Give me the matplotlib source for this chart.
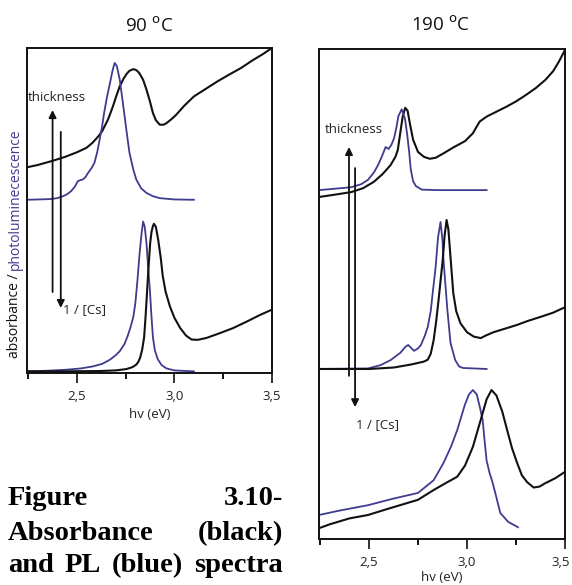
import matplotlib
matplotlib.use("Agg")
import matplotlib.pyplot as plt
import matplotlib.transforms as mtransforms
from matplotlib.ticker import FixedLocator

plt.rcParams["font.family"] = ["Open Sans", "DejaVu Sans"]

BLACK = "#111111"
BLUE = "#3f3b8f"

# ---------------- 90 °C : absorbance (black) and PL (blue) -----------------
l90_abs_thick_x = [2.245, 2.30, 2.377, 2.44, 2.50, 2.55, 2.58, 2.61, 2.63, 2.66, 2.685, 2.70, 2.72,
                   2.74, 2.755, 2.77, 2.79, 2.805, 2.82, 2.84, 2.857, 2.875, 2.89, 2.905, 2.925,
                   2.945, 2.96, 2.985, 3.01, 3.05, 3.10, 3.16, 3.22, 3.28, 3.34, 3.40, 3.45, 3.50]
l90_abs_thick_y = [0.633, 0.640, 0.653, 0.665, 0.679, 0.693, 0.708, 0.728, 0.744, 0.780, 0.820, 0.848,
                   0.882, 0.906, 0.920, 0.930, 0.935, 0.932, 0.923, 0.902, 0.872, 0.835, 0.800, 0.778,
                   0.764, 0.764, 0.769, 0.781, 0.795, 0.822, 0.851, 0.874, 0.897, 0.918, 0.938, 0.962,
                   0.980, 1.0]

l90_pl_thick_x = [2.245, 2.36, 2.40, 2.43, 2.45, 2.47, 2.49, 2.505, 2.52, 2.53, 2.545, 2.557, 2.575,
                  2.59, 2.605, 2.617, 2.63, 2.64, 2.655, 2.67, 2.683, 2.694, 2.705, 2.72, 2.732, 2.745,
                  2.758, 2.77, 2.79, 2.805, 2.83, 2.857, 2.89, 2.925, 3.00, 3.10]
l90_pl_thick_y = [0.533, 0.535, 0.538, 0.544, 0.550, 0.559, 0.573, 0.590, 0.594, 0.595, 0.603, 0.615,
                  0.630, 0.646, 0.680, 0.718, 0.760, 0.800, 0.850, 0.892, 0.930, 0.954, 0.945, 0.903,
                  0.850, 0.790, 0.730, 0.677, 0.625, 0.595, 0.568, 0.554, 0.544, 0.538, 0.534, 0.533]

l90_abs_thin_x = [2.245, 2.40, 2.617, 2.70, 2.754, 2.785, 2.805, 2.815, 2.825, 2.835, 2.845, 2.852,
                  2.86, 2.868, 2.876, 2.883, 2.89, 2.895, 2.905, 2.917, 2.93, 2.94, 2.955, 2.977,
                  3.00, 3.03, 3.06, 3.088, 3.12, 3.165, 3.23, 3.30, 3.37, 3.44, 3.50]
l90_abs_thin_y = [0.005, 0.005, 0.006, 0.008, 0.012, 0.018, 0.026, 0.034, 0.048, 0.072, 0.110, 0.170,
                  0.250, 0.330, 0.400, 0.435, 0.452, 0.459, 0.450, 0.410, 0.355, 0.300, 0.250, 0.205,
                  0.170, 0.138, 0.115, 0.103, 0.102, 0.108, 0.122, 0.138, 0.158, 0.179, 0.195]

l90_pl_thin_x = [2.245, 2.35, 2.445, 2.52, 2.58, 2.63, 2.67, 2.70, 2.72, 2.745, 2.76, 2.775, 2.79,
                 2.80, 2.81, 2.822, 2.832, 2.84, 2.848, 2.857, 2.866, 2.874, 2.882, 2.89, 2.90,
                 2.915, 2.935, 2.96, 3.00, 3.10]
l90_pl_thin_y = [0.005, 0.007, 0.010, 0.014, 0.020, 0.028, 0.041, 0.055, 0.067, 0.090, 0.113, 0.140,
                 0.174, 0.215, 0.280, 0.369, 0.430, 0.466, 0.450, 0.400, 0.320, 0.260, 0.180, 0.110,
                 0.070, 0.042, 0.024, 0.014, 0.008, 0.005]

# ---------------- 190 °C : three sample sizes -----------------
r190_abs_1_x = [2.245, 2.33, 2.41, 2.47, 2.525, 2.57, 2.61, 2.635, 2.647, 2.66, 2.672, 2.685, 2.697,
                2.71, 2.725, 2.75, 2.78, 2.81, 2.84, 2.88, 2.93, 2.99, 3.03, 3.05, 3.065, 3.10, 3.15,
                3.20, 3.25, 3.30, 3.35, 3.40, 3.44, 3.47, 3.50]
r190_abs_1_y = [0.698, 0.703, 0.708, 0.716, 0.729, 0.745, 0.763, 0.780, 0.794, 0.830, 0.862, 0.880,
                0.874, 0.845, 0.815, 0.790, 0.780, 0.776, 0.778, 0.787, 0.799, 0.812, 0.828, 0.842,
                0.852, 0.862, 0.872, 0.882, 0.893, 0.906, 0.920, 0.937, 0.955, 0.975, 0.998]

r190_pl_1_x = [2.245, 2.33, 2.41, 2.46, 2.495, 2.525, 2.546, 2.565, 2.585, 2.60, 2.615, 2.628, 2.64,
               2.65, 2.667, 2.684, 2.695, 2.705, 2.713, 2.725, 2.74, 2.77, 2.85, 3.10]
r190_pl_1_y = [0.712, 0.715, 0.718, 0.724, 0.733, 0.748, 0.763, 0.780, 0.800, 0.796, 0.805, 0.818,
               0.840, 0.863, 0.877, 0.857, 0.825, 0.790, 0.755, 0.730, 0.720, 0.713, 0.712, 0.712]

r190_abs_2_x = [2.245, 2.50, 2.627, 2.713, 2.78, 2.80, 2.815, 2.83, 2.843, 2.855, 2.866, 2.876,
                2.886, 2.896, 2.905, 2.915, 2.93, 2.945, 2.967, 3.00, 3.035, 3.07, 3.10, 3.135, 3.20,
                3.256, 3.31, 3.373, 3.44, 3.50]
r190_abs_2_y = [0.347, 0.347, 0.350, 0.356, 0.362, 0.366, 0.378, 0.406, 0.445, 0.488, 0.530, 0.569,
                0.620, 0.651, 0.632, 0.580, 0.502, 0.465, 0.440, 0.422, 0.413, 0.410, 0.416, 0.422,
                0.430, 0.437, 0.445, 0.453, 0.462, 0.473]

r190_pl_2_x = [2.245, 2.495, 2.56, 2.61, 2.66, 2.685, 2.70, 2.715, 2.73, 2.75, 2.765, 2.785, 2.80,
               2.815, 2.825, 2.84, 2.852, 2.865, 2.875, 2.88, 2.90, 2.916, 2.94, 2.96, 2.98, 3.10]
r190_pl_2_y = [0.347, 0.348, 0.355, 0.365, 0.380, 0.392, 0.396, 0.390, 0.384, 0.389, 0.396, 0.415,
               0.433, 0.465, 0.502, 0.555, 0.615, 0.647, 0.610, 0.570, 0.467, 0.400, 0.365, 0.352,
               0.349, 0.347]

r190_abs_3_x = [2.245, 2.30, 2.40, 2.495, 2.60, 2.75, 2.83, 2.90, 2.95, 2.99, 3.03, 3.07, 3.10,
                3.125, 3.15, 3.18, 3.205, 3.23, 3.256, 3.28, 3.307, 3.34, 3.37, 3.40, 3.45, 3.50]
r190_abs_3_y = [0.022, 0.030, 0.042, 0.049, 0.062, 0.080, 0.100, 0.116, 0.127, 0.150, 0.188, 0.243,
                0.285, 0.304, 0.293, 0.260, 0.222, 0.185, 0.155, 0.130, 0.116, 0.105, 0.107, 0.114,
                0.124, 0.137]

r190_pl_3_x = [2.245, 2.35, 2.495, 2.62, 2.75, 2.83, 2.88, 2.92, 2.95, 2.99, 3.01, 3.03, 3.05, 3.065,
               3.08, 3.09, 3.10, 3.115, 3.13, 3.15, 3.17, 3.21, 3.26]
r190_pl_3_y = [0.049, 0.058, 0.069, 0.082, 0.094, 0.120, 0.155, 0.190, 0.222, 0.275, 0.295, 0.304,
               0.295, 0.270, 0.243, 0.200, 0.160, 0.135, 0.116, 0.085, 0.053, 0.035, 0.024]

x_major = [2.5, 3.0, 3.5]
x_minor = [2.25, 2.75, 3.25]
x_labels = ["2,5", "3,0", "3,5"]

W, H = 572, 585
fig = plt.figure(figsize=(W / 100, H / 100), dpi=100)


def px_axes(left, top, right, bottom):
    return fig.add_axes([left / W, (H - bottom) / H, (right - left) / W, (bottom - top) / H])


axL = px_axes(27, 48, 272, 373)
axR = px_axes(319, 49, 565, 539)

for ax, lpad in ((axL, 3), (axR, 1.5)):
    ax.set_xlim(2.245, 3.5)
    ax.set_ylim(0, 1)
    ax.set_yticks([])
    ax.xaxis.set_major_locator(FixedLocator(x_major))
    ax.xaxis.set_minor_locator(FixedLocator(x_minor))
    ax.set_xticklabels(x_labels)
    ax.tick_params(axis="x", which="major", direction="out", length=7, width=1.3,
                   labelsize=9.5, pad=5.5, colors="#222222")
    ax.tick_params(axis="x", which="minor", direction="out", length=4.5, width=1.3)
    for s in ax.spines.values():
        s.set_linewidth(1.4)
        s.set_color("#111111")
    ax.set_xlabel("hv (eV)", fontsize=9.5, labelpad=lpad, color="#222222")

# the last label of the right panel sits against the figure edge: nudge it inward
last = axR.get_xticklabels()[-1]
last.set_transform(last.get_transform() + mtransforms.ScaledTranslation(-4 / 100, 0, fig.dpi_scale_trans))

lw_abs, lw_pl = 1.5, 1.3
axL.plot(l90_abs_thick_x, l90_abs_thick_y, color=BLACK, lw=lw_abs)
axL.plot(l90_pl_thick_x, l90_pl_thick_y, color=BLUE, lw=lw_pl)
axL.plot(l90_pl_thin_x, l90_pl_thin_y, color=BLUE, lw=lw_pl)
axL.plot(l90_abs_thin_x, l90_abs_thin_y, color=BLACK, lw=lw_abs)

axR.plot(r190_abs_1_x, r190_abs_1_y, color=BLACK, lw=lw_abs)
axR.plot(r190_pl_1_x, r190_pl_1_y, color=BLUE, lw=lw_pl)
axR.plot(r190_pl_2_x, r190_pl_2_y, color=BLUE, lw=lw_pl)
axR.plot(r190_abs_2_x, r190_abs_2_y, color=BLACK, lw=lw_abs)
axR.plot(r190_pl_3_x, r190_pl_3_y, color=BLUE, lw=lw_pl)
axR.plot(r190_abs_3_x, r190_abs_3_y, color=BLACK, lw=lw_abs)

# trend arrows: thickness (up) and 1/[Cs] (down)
arrow_kw = dict(arrowstyle="-|>", color="#111111", lw=1.3, mutation_scale=11, shrinkA=0, shrinkB=0)


def trend(ax, x_up, y_up0, y_up1, x_dn, y_dn0, y_dn1, t_xy, c_xy):
    ax.annotate("", xy=(x_up, y_up1), xytext=(x_up, y_up0), arrowprops=arrow_kw)
    ax.annotate("", xy=(x_dn, y_dn1), xytext=(x_dn, y_dn0), arrowprops=arrow_kw)
    ax.text(*t_xy, "thickness", fontsize=9.5, ha="left", va="center", color="#222222")
    ax.text(*c_xy, "1 / [Cs]", fontsize=9.5, ha="left", va="center", color="#222222")


trend(axL, 2.376, 0.249, 0.809, 2.418, 0.742, 0.20, (2.25, 0.849), (2.43, 0.194))
trend(axR, 2.398, 0.333, 0.80, 2.429, 0.757, 0.269, (2.275, 0.835), (2.436, 0.233))

fig.text(149 / W, 1 - 26 / H, r"90 $^{\mathrm{o}}$C", fontsize=13.5, ha="center", va="center",
         color="#111111")
fig.text(441 / W, 1 - 25 / H, r"190 $^{\mathrm{o}}$C", fontsize=13.5, ha="center", va="center",
         color="#111111")

fig.canvas.draw()
renderer = fig.canvas.get_renderer()

# two-colour vertical axis title
t_abs = fig.text(15 / W, (H - 358) / H, "absorbance / ", rotation=90, fontsize=10,
                 ha="center", va="bottom", color="#111111")
fig.canvas.draw()
top_px = t_abs.get_window_extent(renderer).y1
fig.text(15 / W, top_px / H, "photoluminecescence", rotation=90, fontsize=10,
         ha="center", va="bottom", color=BLUE)

# caption, justified between two margins
serif = ["Liberation Serif", "DejaVu Serif"]
cap_lines = [["Figure", "3.10-"], ["Absorbance", "(black)"], ["and", "PL", "(blue)", "spectra"]]
cap_baselines = [505, 540, 572]
x_left, x_right = 8, 283
for words, base in zip(cap_lines, cap_baselines):
    texts = [fig.text(0, (H - base) / H, w, fontsize=20.5, fontweight="bold", family=serif,
                      ha="left", va="baseline", color="#000000") for w in words]
    fig.canvas.draw()
    widths = [t.get_window_extent(renderer).width for t in texts]
    gap = (x_right - x_left - sum(widths)) / (len(words) - 1)
    xpos = x_left
    for t, w in zip(texts, widths):
        t.set_x(xpos / W)
        xpos += w + gap

fig.savefig("out.png", dpi=100)
